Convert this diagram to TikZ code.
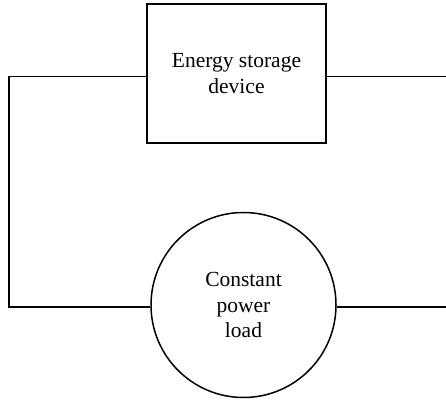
\documentclass[tikz,border=0pt]{standalone}
\usepackage{fontspec}
\setmainfont{Liberation Serif}
\begin{document}
\begin{tikzpicture}[x=1pt,y=1pt,
  wire/.style={line width=1.5pt},
  lbl/.style={align=center,font=\fontsize{21.5}{25.5}\selectfont},
  boxnode/.style={draw,line width=1.5pt,minimum width=179pt,minimum height=139pt,lbl},
  circnode/.style={draw,circle,line width=1.5pt,minimum size=185pt,inner sep=0pt,lbl}]
\useasboundingbox (0,0) rectangle (446,399);
\node[boxnode] (box) at (236.5,325.5) {Energy storage\\device};
\node[circnode] (load) at (243.5,94) {Constant\\power\\load};
\coordinate (tl) at (9,322.5);
\coordinate (bl) at (9,92);
\coordinate (tr) at (446,322.5);
\coordinate (br) at (446,92);
\draw[wire] (box.west |- tl) -- (tl) -- (bl) -- (load.west |- bl);
\draw[wire] (box.east |- tr) -- (tr);
\draw[wire] (load.east |- br) -- (br);
\end{tikzpicture}
\end{document}
